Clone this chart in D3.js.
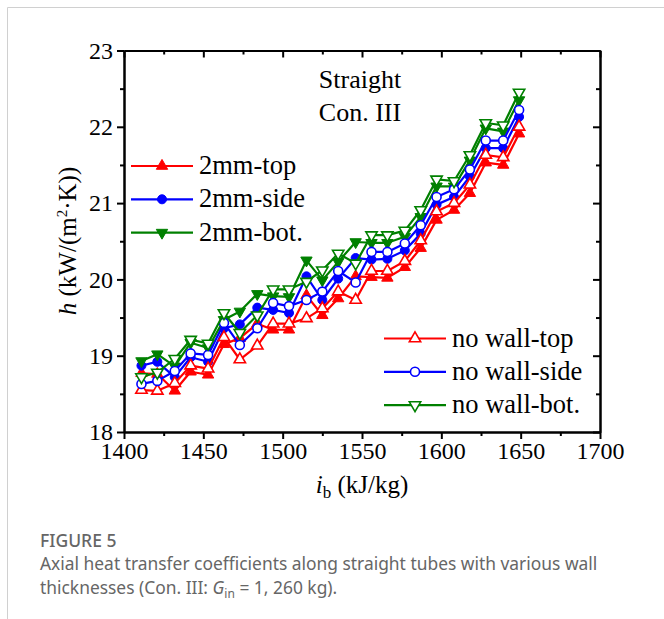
<!DOCTYPE html>
<html>
<head>
<meta charset="utf-8">
<script src="https://cdn.jsdelivr.net/npm/d3@7"></script>
<style>
  html, body { margin: 0; padding: 0; background: #fff; }
  #chart { width: 664px; height: 619px; }
</style>
</head>
<body>
<div id="chart"></div>
<script>
// enthalpy values (kJ/kg) shared by all series
const enthalpy = [1411, 1421, 1432, 1442, 1453, 1463, 1473, 1484, 1494, 1504, 1515, 1525,
                  1535, 1546, 1556, 1566, 1577, 1587, 1597, 1608, 1618, 1628, 1639, 1649];

// h (kW/(m2.K))
const wall2mmTop  = [18.77, 18.76, 18.54, 18.79, 18.75, 19.15, 19.23, 19.42, 19.34, 19.34, 19.79, 19.53,
                     19.75, 20.04, 20.03, 20.02, 20.16, 20.41, 20.78, 20.91, 21.13, 21.53, 21.50, 21.91];
const wall2mmSide = [18.87, 18.92, 18.72, 18.98, 18.92, 19.36, 19.41, 19.63, 19.60, 19.56, 20.04, 19.73,
                     20.01, 20.28, 20.26, 20.27, 20.38, 20.60, 20.98, 21.08, 21.35, 21.72, 21.72, 22.13];
const wall2mmBot  = [18.93, 19.02, 18.86, 19.17, 19.10, 19.47, 19.58, 19.81, 19.78, 19.77, 20.25, 19.99,
                     20.23, 20.49, 20.48, 20.48, 20.56, 20.82, 21.22, 21.22, 21.56, 21.98, 21.94, 22.35];
const noWallTop   = [18.55, 18.54, 18.64, 18.87, 18.83, 19.24, 18.95, 19.13, 19.42, 19.42, 19.49, 19.62,
                     19.84, 19.73, 20.11, 20.11, 20.24, 20.51, 20.89, 21.00, 21.24, 21.63, 21.60, 22.00];
const noWallSide  = [18.63, 18.67, 18.80, 19.03, 19.01, 19.43, 19.14, 19.36, 19.69, 19.65, 19.73, 19.84,
                     20.11, 19.96, 20.36, 20.36, 20.47, 20.71, 21.08, 21.18, 21.44, 21.82, 21.82, 22.22];
const noWallBot   = [18.72, 18.78, 18.96, 19.21, 19.16, 19.56, 19.30, 19.53, 19.87, 19.87, 19.97, 20.12,
                     20.34, 20.21, 20.58, 20.58, 20.64, 20.91, 21.31, 21.29, 21.63, 22.05, 22.02, 22.45];

const xTicks = [1400, 1450, 1500, 1550, 1600, 1650, 1700];
const yTicks = [18, 19, 20, 21, 22, 23];

const series = [
  { name: "2mm-top",      values: wall2mmTop,  color: "#ff0000", shape: "up",   filled: true },
  { name: "2mm-side",     values: wall2mmSide, color: "#0000ff", shape: "circle", filled: true },
  { name: "2mm-bot.",     values: wall2mmBot,  color: "#008000", shape: "down", filled: true },
  { name: "no wall-top",  values: noWallTop,   color: "#ff0000", shape: "up",   filled: false },
  { name: "no wall-side", values: noWallSide,  color: "#0000ff", shape: "circle", filled: false },
  { name: "no wall-bot.", values: noWallBot,   color: "#008000", shape: "down", filled: false }
];

const SERIF = "Liberation Serif";
const W = 664, H = 619;
const svg = d3.select("#chart").append("svg")
  .attr("width", W).attr("height", H)
  .attr("viewBox", `0 0 ${W} ${H}`);

// card border
svg.append("path")
  .attr("d", "M7.5,619 V7.5 H664")
  .attr("fill", "none").attr("stroke", "#d0d0d0").attr("stroke-width", 1);

const mLeft = 124, mRight = 600, mTop = 50.5, mBottom = 432;
const x = d3.scaleLinear().domain([1400, 1700]).range([mLeft, mRight]);
const y = d3.scaleLinear().domain([18, 23]).range([mBottom, mTop]);

const minorX = d3.range(1400, 1701, 25).filter(v => !xTicks.includes(v));
const minorY = d3.range(18, 23.01, 0.5).filter(v => !yTicks.includes(v));

function styleAxis(g) {
  g.selectAll(".domain").attr("stroke", "#000").attr("stroke-width", 2);
  g.selectAll(".tick line").attr("stroke", "#000").attr("stroke-width", 2);
  g.selectAll("text").style("font-family", SERIF).style("font-size", "24px").attr("fill", "#000");
}

// bottom
svg.append("g").attr("transform", `translate(0,${mBottom})`)
  .call(d3.axisBottom(x).tickValues(xTicks).tickSize(7).tickPadding(3).tickSizeOuter(0).tickFormat(d3.format("d")))
  .call(styleAxis);
svg.append("g").attr("transform", `translate(0,${mBottom})`)
  .call(d3.axisBottom(x).tickValues(minorX).tickSize(4).tickFormat("").tickSizeOuter(0))
  .call(styleAxis);
// top (ticks point down, mirrored)
svg.append("g").attr("transform", `translate(0,${mTop})`)
  .call(d3.axisTop(x).tickValues(xTicks).tickSize(-7).tickFormat("").tickSizeOuter(0))
  .call(styleAxis);
svg.append("g").attr("transform", `translate(0,${mTop})`)
  .call(d3.axisTop(x).tickValues(minorX).tickSize(-4).tickFormat("").tickSizeOuter(0))
  .call(styleAxis);
// left
svg.append("g").attr("transform", `translate(${mLeft},0)`)
  .call(d3.axisLeft(y).tickValues(yTicks).tickSize(7).tickPadding(4).tickSizeOuter(0).tickFormat(d3.format("d")))
  .call(styleAxis);
svg.append("g").attr("transform", `translate(${mLeft},0)`)
  .call(d3.axisLeft(y).tickValues(minorY).tickSize(4).tickFormat("").tickSizeOuter(0))
  .call(styleAxis);
// right (ticks point left, mirrored)
svg.append("g").attr("transform", `translate(${mRight},0)`)
  .call(d3.axisRight(y).tickValues(yTicks).tickSize(-7).tickFormat("").tickSizeOuter(0))
  .call(styleAxis);
svg.append("g").attr("transform", `translate(${mRight},0)`)
  .call(d3.axisRight(y).tickValues(minorY).tickSize(-4).tickFormat("").tickSizeOuter(0))
  .call(styleAxis);

// markers
function symbolPath(shape) {
  if (shape === "circle") return d3.symbol(d3.symbolCircle, 64)();
  return d3.symbol(d3.symbolTriangle, 56)();
}
function drawMarker(g, s, px, py) {
  g.append("path")
    .attr("d", symbolPath(s.shape))
    .attr("transform", `translate(${px},${py})` + (s.shape === "down" ? " rotate(180)" : ""))
    .attr("fill", s.filled ? s.color : "#fff")
    .attr("stroke", s.color)
    .attr("stroke-width", s.filled ? 1 : 1.6);
}

const line = d3.line().x(d => x(d[0])).y(d => y(d[1]));
const plot = svg.append("g");
series.forEach(s => {
  const pts = enthalpy.map((e, i) => [e, s.values[i]]);
  const g = plot.append("g");
  g.append("path").datum(pts)
    .attr("d", line)
    .attr("fill", "none").attr("stroke", s.color).attr("stroke-width", 2.2)
    .attr("stroke-linejoin", "round");
  pts.forEach(p => drawMarker(g, s, x(p[0]), y(p[1])));
});

function serifText(px, py, size) {
  return svg.append("text").attr("x", px).attr("y", py)
    .style("font-family", SERIF).style("font-size", size + "px").attr("fill", "#000");
}

// legends
function legend(items, lx0, lx1, ty, dy) {
  items.forEach((s, i) => {
    const yy = ty + i * dy;
    const g = svg.append("g");
    g.append("line").attr("x1", lx0).attr("x2", lx1).attr("y1", yy).attr("y2", yy)
      .attr("stroke", s.color).attr("stroke-width", 2.2);
    drawMarker(g, s, (lx0 + lx1) / 2, yy);
    serifText(lx1 + 6, yy + 8, 26.5).text(s.name);
  });
}
legend(series.slice(0, 3), 131, 193, 166, 33.3);
legend(series.slice(3), 384, 446, 338.5, 33.3);

// annotation
serifText(360, 88, 26).attr("text-anchor", "middle").text("Straight");
serifText(360, 121, 26).attr("text-anchor", "middle").text("Con. III");

// axis titles
const xt = serifText(362, 493, 25).attr("text-anchor", "middle");
xt.append("tspan").style("font-style", "italic").text("i");
xt.append("tspan").style("font-size", "17px").attr("dy", 5).text("b");
xt.append("tspan").attr("dy", -5).text(" (kJ/kg)");

const yt = serifText(0, 0, 25)
  .attr("transform", `translate(76,241) rotate(-90)`)
  .attr("text-anchor", "middle");
yt.append("tspan").style("font-style", "italic").text("h");
yt.append("tspan").text(" (kW/(m");
yt.append("tspan").style("font-size", "15px").attr("dy", -9).text("2");
yt.append("tspan").attr("dy", 9).text("·K))");

// caption
function capText(py, size, weight) {
  return svg.append("text").attr("x", 40).attr("y", py)
    .style("font-family", "Noto Sans").style("font-size", size + "px")
    .style("font-weight", weight).attr("fill", "#666");
}
capText(547, 17.5, 500).text("FIGURE 5");
capText(570, 17.4, 400).text("Axial heat transfer coefficients along straight tubes with various wall");
const c2 = capText(594, 17.4, 400);
c2.append("tspan").text("thicknesses (Con. III: ");
c2.append("tspan").style("font-style", "italic").text("G");
c2.append("tspan").style("font-size", "12px").attr("dy", 4).text("in");
c2.append("tspan").attr("dy", -4).text(" = 1, 260 kg).");
</script>
</body>
</html>
